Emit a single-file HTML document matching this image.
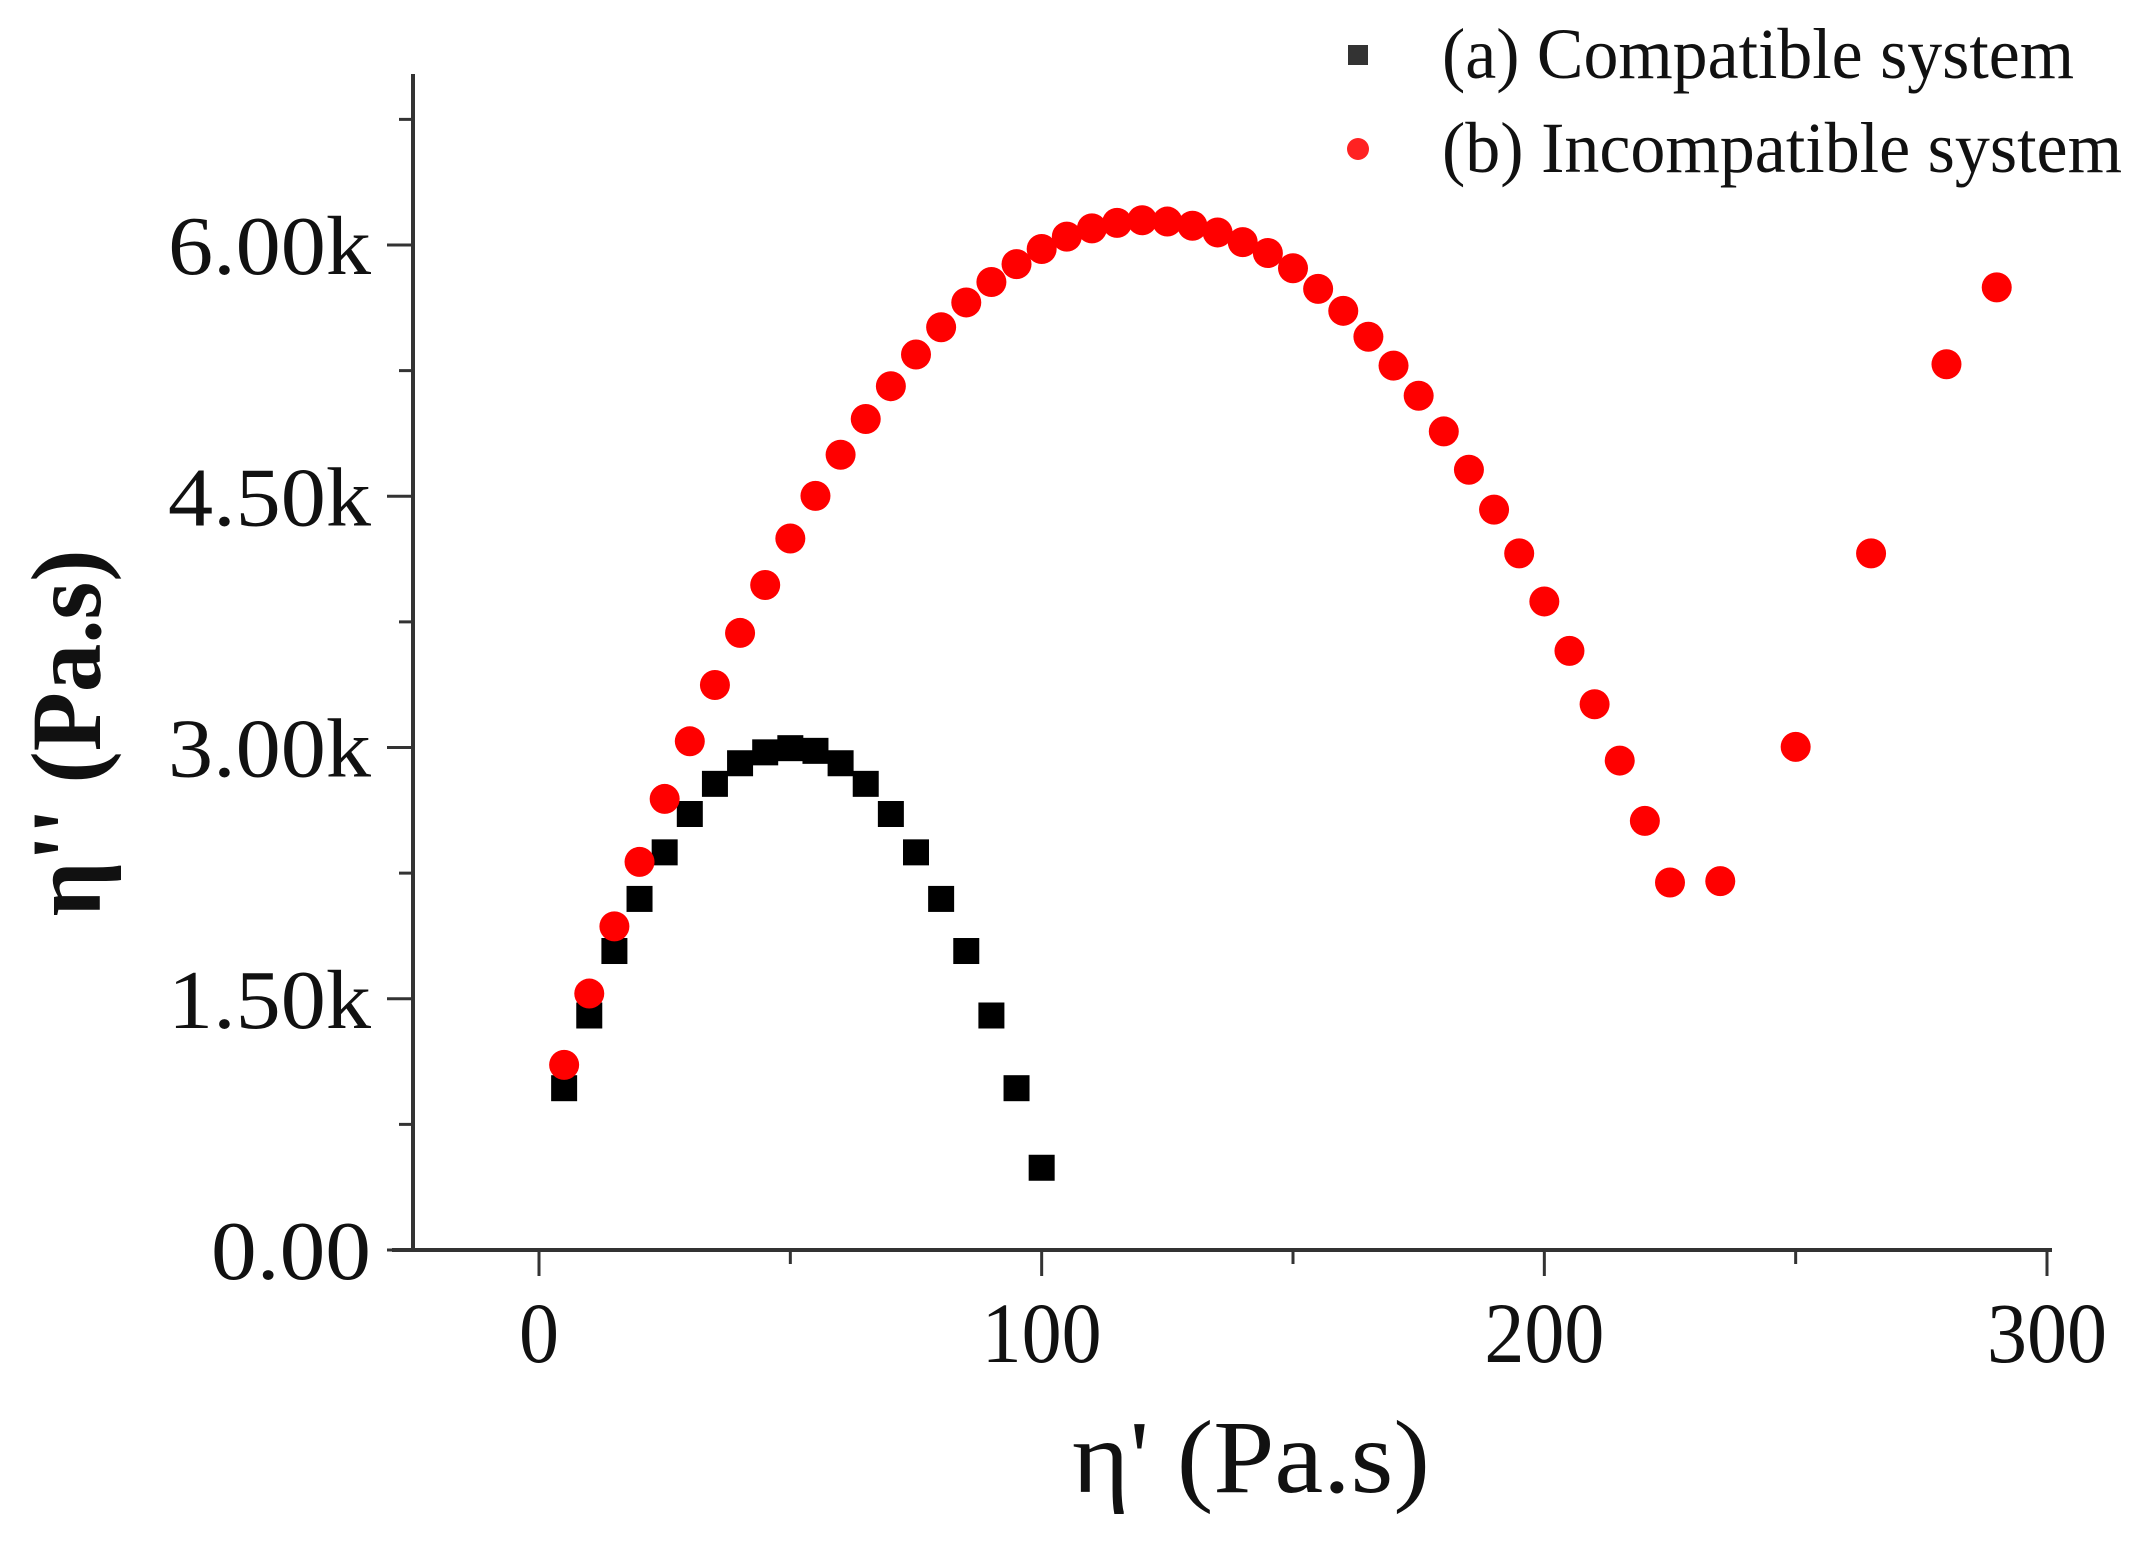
<!DOCTYPE html>
<html><head><meta charset="utf-8"><style>
html,body{margin:0;padding:0;background:#fff;}
svg{display:block;}
text{font-family:"Liberation Serif",serif;fill:#111;}
</style></head><body>
<svg id="chart" width="2145" height="1542" viewBox="0 0 2145 1542" xmlns="http://www.w3.org/2000/svg">
<g id="axes"></g>
<g id="series-a"></g>
<g id="series-b"></g>
<text x="1251" y="1492" font-size="104" text-anchor="middle" textLength="358" lengthAdjust="spacingAndGlyphs">η' (Pa.s)</text>
<text transform="translate(100,733) rotate(-90)" font-size="100" font-weight="bold" text-anchor="middle" textLength="367" lengthAdjust="spacingAndGlyphs">η'' (Pa.s)</text>
<g>
  <rect x="1348" y="45" width="20" height="20" fill="#333"/>
  <text x="1442" y="78" font-size="72" textLength="632" lengthAdjust="spacingAndGlyphs">(a) Compatible system</text>
  <circle cx="1358" cy="149" r="11" fill="#f22"/>
  <text x="1442" y="172" font-size="72" textLength="680" lengthAdjust="spacingAndGlyphs">(b) Incompatible system</text>
</g>
</svg>
<script>
const xTicks = [0, 100, 200, 300];
const xTickLabels = ["0", "100", "200", "300"];
const yTicks = [0, 1500, 3000, 4500, 6000];
const yTickLabels = ["0.00", "1.50k", "3.00k", "4.50k", "6.00k"];
const compatX = [5,10,15,20,25,30,35,40,45,50,55,60,65,70,75,80,85,90,95,100];
const compatY = [966,1400,1785,2096,2374,2603,2783,2906,2971,2996,2980,2906,2783,2603,2374,2096,1785,1400,966,491];
const incompX = [5,10,15,20,25,30,35,40,45,50,55,60,65,70,75,80,85,90,95,100,105,110,115,120,125,130,135,140,145,150,155,160,165,170,175,180,185,190,195,200,205,210,215,220,225,235,250,265,280,290];
const incompY = [1105,1531,1932,2317,2693,3037,3373,3684,3970,4248,4502,4748,4961,5157,5346,5509,5657,5779,5886,5976,6050,6099,6132,6148,6140,6115,6075,6017,5952,5861,5738,5607,5452,5280,5100,4887,4658,4420,4159,3872,3577,3258,2922,2562,2194,2202,3004,4159,5288,5747];

const NS = "http://www.w3.org/2000/svg";
const X0 = 539, XS = (2047 - 539) / 300;
const Y0 = 1250, YS = (1250 - 245) / 6000;
function sx(v){ return X0 + v * XS; }
function sy(v){ return Y0 - v * YS; }
function mk(tag, attrs, parent){
  const e = document.createElementNS(NS, tag);
  for (const k in attrs) e.setAttribute(k, attrs[k]);
  parent.appendChild(e);
  return e;
}
const axes = document.getElementById('axes');
let el;
el = mk('line', {x1:413, y1:74, x2:413, y2:1252, stroke:'#333', 'stroke-width':4}, axes);


el = mk('line', {x1:392, y1:1250, x2:2052, y2:1250, stroke:'#333', 'stroke-width':4}, axes);


for (let v = 0; v <= 300; v += 50) {
  const major = v % 100 === 0;
  el = mk('line', {x1:sx(v), y1:1250, x2:sx(v), y2:1250 + (major ? 26 : 14), stroke:'#333', 'stroke-width':3}, axes);
  
  
}
xTicks.forEach((v, i) => {
  el = mk('text', {x:sx(v), y:1362, 'font-size':86, 'text-anchor':'middle', textLength: xTickLabels[i].length * 40, lengthAdjust:'spacingAndGlyphs'}, axes);
  el.textContent = xTickLabels[i];
  
  
});
for (let v = 750; v <= 6750; v += 750) {
  const major = v % 1500 === 0;
  el = mk('line', {x1:413, y1:sy(v), x2:413 - (major ? 26 : 14), y2:sy(v), stroke:'#333', 'stroke-width':3}, axes);
  
  
}
el = mk('line', {x1:413, y1:1250, x2:387, y2:1250, stroke:'#333', 'stroke-width':3}, axes);


yTicks.forEach((v, i) => {
  el = mk('text', {x:371, y:sy(v) + 29, 'font-size':84, 'text-anchor':'end', textLength: yTickLabels[i].length === 4 ? 160 : 203, lengthAdjust:'spacingAndGlyphs'}, axes);
  el.textContent = yTickLabels[i];
  
  
});
const ga = document.getElementById('series-a');
compatX.forEach((x, i) => {
  el = mk('rect', {x:sx(x) - 13, y:sy(compatY[i]) - 13, width:26, height:26, fill:'#000'}, ga);
  
  
});
const gb = document.getElementById('series-b');
incompX.forEach((x, i) => {
  el = mk('circle', {cx:sx(x), cy:sy(incompY[i]), r:15, fill:'#f00'}, gb);
  
  
});
</script>
</body></html>
